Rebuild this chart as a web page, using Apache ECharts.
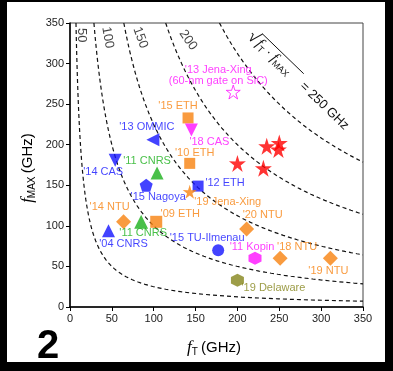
<!DOCTYPE html>
<html>
<head>
<meta charset="utf-8">
<script src="https://cdn.jsdelivr.net/npm/echarts@6/dist/echarts.min.js"></script>
<style>
  html, body { margin: 0; padding: 0; background: #fff; }
  #chart-container { width: 393px; height: 371px; }
</style>
</head>
<body>
<div id="chart-container"></div>
<script>
  // device labels, fT and fMAX (GHz)
  var names = ["'13 Jena-Xing\n(60-nm gate on SiC)", "'15 ETH", "'18 CAS", "'13 OMMIC", "'10 ETH",
    "'14 CAS", "'11 CNRS", "'15 Nagoya", "'12 ETH", "'19 Jena-Xing", "'14 NTU", "'11 CNRS", "'09 ETH",
    "'04 CNRS", "'15 TU-Ilmenau", "'20 NTU", "'11 Kopin", "'18 NTU", "'19 NTU", "'19 Delaware"];
  var fT = [195, 141, 145, 99, 143, 54, 104, 91, 153, 143, 64, 85, 103, 46, 177, 211, 221, 251, 311, 200];
  var fMAX = [265, 233, 218, 206, 177, 181, 165, 150, 149, 142, 105, 105, 105, 94, 70, 96, 60, 60, 60, 33];

  // unlabelled red stars
  var starFT = [200, 231, 235, 250, 249];
  var starFMAX = [177, 171, 198, 202, 194];

  // sqrt(fT*fMAX) contours
  var contourGHz = [50, 100, 150, 200, 250];
  var axisTicks = [0, 50, 100, 150, 200, 250, 300, 350];

  var BLUE = '#1414ff', ORANGE = '#f7820f', GREEN = '#1cb01c', MAGENTA = '#ff10ff', OLIVE = '#85851a';
  var STAR = 'path://M50 0 L61.17 34.63 L97.55 34.55 L68.07 55.87 L79.39 90.45 L50 69 L20.61 90.45 L31.93 55.87 L2.45 34.55 L38.83 34.63 Z';
  var PENTA = 'path://M50 0 L97.55 34.55 L79.39 90.45 L20.61 90.45 L2.45 34.55 Z';
  var HEXA = 'path://M50 0 L93.3 25 L93.3 75 L50 100 L6.7 75 L6.7 25 Z';

  // marker style per point: symbol, color, size, rotate, label offset dx, dy, hollow
  var styles = [
    [STAR, MAGENTA, 14, 0, -15, -17, true],
    ['rect', ORANGE, 11, 0, -10, -12],
    ['triangle', MAGENTA, 13, 180, 18, 12],
    ['triangle', BLUE, 13, 90, -6, -13],
    ['rect', ORANGE, 11, 0, 5, -10],
    ['triangle', BLUE, 13, 180, -12, 12],
    ['triangle', GREEN, 13, 0, -10, -12],
    [PENTA, BLUE, 13, 0, 12, 12],
    ['rect', BLUE, 11, 0, 27, -3],
    [STAR, ORANGE, 14, 0, 38, 10],
    ['diamond', ORANGE, 15, 0, -14, -15],
    ['triangle', GREEN, 14, 0, 2, 11],
    ['rect', ORANGE, 12, 0, 24, -8],
    ['triangle', BLUE, 13, 0, 15, 13],
    ['circle', BLUE, 12, 0, -11, -12],
    ['diamond', ORANGE, 15, 0, 16, -14],
    [HEXA, MAGENTA, 13, 0, -3, -11],
    ['diamond', ORANGE, 15, 0, 17, -11],
    ['diamond', ORANGE, 15, 0, -2, 13],
    [HEXA, OLIVE, 13, 0, 36, 8]
  ];

  // label anchors for the contour values (data coords) + rotation
  var contourLabelPos = [[14, 335, -90], [45, 332, -80], [84, 332, -70], [141, 329, -55]];

  var pointData = names.map(function (n, i) {
    var s = styles[i];
    return {
      value: [fT[i], fMAX[i]],
      name: n,
      symbol: s[0],
      symbolSize: s[2],
      symbolRotate: s[3],
      itemStyle: s[6] ? { color: '#fff', borderColor: s[1], borderWidth: 1 } : { color: s[1] },
      label: { show: true, position: 'inside', offset: [s[4], s[5]], color: s[1], formatter: n }
    };
  });

  var contourSeries = contourGHz.map(function (c) {
    var pts = [];
    var x0 = c * c / 350;
    for (var k = 0; k <= 80; k++) {
      var x = x0 * Math.pow(350 / x0, k / 80);
      pts.push([x, c * c / x]);
    }
    return {
      type: 'line', data: pts, showSymbol: false, silent: true, z: 1,
      lineStyle: { color: '#111', width: 1.2, type: [4, 3] }
    };
  });

  var dom = document.getElementById('chart-container');
  var myChart = echarts.init(dom, null, { renderer: 'canvas' });

  var option = {
    animation: false,
    grid: { left: 70, right: 30, top: 23, bottom: 64, show: true, borderColor: '#444', borderWidth: 1 },
    textStyle: { fontFamily: 'Liberation Sans, Arial, sans-serif' },
    xAxis: {
      type: 'value', min: 0, max: 350, interval: 50,
      axisLine: { lineStyle: { color: '#000', width: 1.5 } },
      axisTick: { length: 4, lineStyle: { color: '#000' } },
      axisLabel: { color: '#222', fontSize: 11, margin: 6,
        formatter: function (v) { return axisTicks.indexOf(v) >= 0 ? v : ''; } },
      splitLine: { show: false }
    },
    yAxis: {
      type: 'value', min: 0, max: 350, interval: 50,
      axisLine: { lineStyle: { color: '#000', width: 1.5 } },
      axisTick: { length: 4, lineStyle: { color: '#000' } },
      axisLabel: { color: '#222', fontSize: 11, margin: 6 },
      splitLine: { show: false }
    },
    series: contourSeries.concat([
      {
        type: 'scatter', silent: true, symbolSize: 0, z: 2,
        data: contourLabelPos.map(function (p, i) {
          return { value: [p[0], p[1]], label: { rotate: p[2], formatter: String(contourGHz[i]) } };
        }),
        label: { show: true, position: 'inside', color: '#111', fontSize: 13 }
      },
      {
        type: 'scatter', z: 5, data: pointData,
        label: { fontSize: 11, lineHeight: 11 }
      },
      {
        type: 'scatter', z: 5, symbol: STAR, symbolSize: 17,
        itemStyle: { color: '#ff0000' },
        data: starFT.map(function (x, i) { return [x, starFMAX[i]]; })
      }
    ])
  };
  myChart.setOption(option);

  // sqrt(fT fMAX) = 250 GHz annotation, laid out along a 44 deg slope
  var p0 = myChart.convertToPixel({ gridIndex: 0 }, [215, 336]);
  var ang = 44 * Math.PI / 180;
  function along(lx, ly) {
    return [p0[0] + lx * Math.cos(ang) - ly * Math.sin(ang), p0[1] + lx * Math.sin(ang) + ly * Math.cos(ang)];
  }
  var richF = {
    i: { fontStyle: 'italic', fontSize: 15, fontFamily: 'Liberation Serif, serif' },
    s: { fontSize: 9, padding: [8, 0, 0, 0] },
    n: { fontSize: 13 }
  };
  var a1 = along(0, 0), a2 = along(11, 0), a3 = along(72, 0);
  var l1 = along(8, -9), l2 = along(66, -9);

  myChart.setOption({
    graphic: [
      { type: 'rect', shape: { x: 0, y: 0, width: 7, height: 371 }, style: { fill: '#000' } },
      { type: 'rect', shape: { x: 385, y: 0, width: 8, height: 371 }, style: { fill: '#000' } },
      { type: 'rect', shape: { x: 0, y: 0, width: 393, height: 2 }, style: { fill: '#000' } },
      { type: 'rect', shape: { x: 0, y: 362, width: 393, height: 9 }, style: { fill: '#000' } },
      {
        type: 'text', left: 37, top: 327,
        style: { text: '2', fontSize: 40, fontWeight: 'bold', fill: '#000', fontFamily: 'Liberation Sans, Arial' }
      },
      {
        type: 'text', x: 214, y: 348,
        style: {
          text: '{i|f}{s|T} {n|(GHz)}', align: 'center', verticalAlign: 'middle', fill: '#000',
          rich: { i: { fontStyle: 'italic', fontSize: 17, fontFamily: 'Liberation Serif, serif' },
            s: { fontSize: 10, padding: [9, 0, 0, 0] }, n: { fontSize: 15 } }
        }
      },
      {
        type: 'text', x: 28, y: 168, rotation: Math.PI / 2,
        style: {
          text: '{i|f}{s|MAX} {n|(GHz)}', align: 'center', verticalAlign: 'middle', fill: '#000',
          rich: { i: { fontStyle: 'italic', fontSize: 17, fontFamily: 'Liberation Serif, serif' },
            s: { fontSize: 10, padding: [9, 0, 0, 0] }, n: { fontSize: 15 } }
        }
      },
      { type: 'text', x: a1[0], y: a1[1], rotation: -ang,
        style: { text: '\u221A', fontSize: 17, fill: '#111', verticalAlign: 'middle' } },
      { type: 'line', shape: { x1: l1[0], y1: l1[1], x2: l2[0], y2: l2[1] }, style: { stroke: '#111', lineWidth: 1 } },
      { type: 'text', x: a2[0], y: a2[1], rotation: -ang,
        style: { text: '{i|f}{s|T} {n|\u00B7} {i|f}{s|MAX}', fill: '#111', verticalAlign: 'middle', rich: richF } },
      { type: 'text', x: a3[0], y: a3[1], rotation: -ang,
        style: { text: '= 250 GHz', fontSize: 13, fill: '#111', verticalAlign: 'middle' } }
    ]
  });
</script>
</body>
</html>
